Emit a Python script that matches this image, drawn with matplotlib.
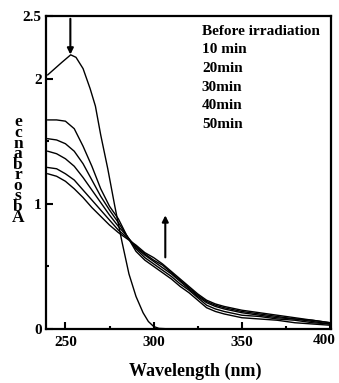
import matplotlib.pyplot as plt
from matplotlib.transforms import ScaledTranslation

plt.rcParams["font.family"] = ["Liberation Serif", "DejaVu Serif"]
plt.rcParams["font.weight"] = "bold"

# before irradiation spectrum
wl_before = [240, 244, 248, 253, 256, 260, 264, 267, 270, 274, 278, 282, 286, 290,
             294, 297, 300, 303, 310, 320, 400]
a_before = [2.03, 2.08, 2.13, 2.19, 2.17, 2.08, 1.92, 1.78, 1.55, 1.28, 0.98, 0.70,
            0.44, 0.26, 0.13, 0.06, 0.02, 0.005, 0.0, 0.0, 0.0]

# irradiated spectra
wl = [240, 245, 250, 255, 260, 265, 270, 275, 280, 285, 290, 295, 300, 305, 310,
      315, 320, 325, 330, 335, 340, 350, 360, 370, 380, 390, 400]
a_10 = [1.67, 1.67, 1.66, 1.60, 1.46, 1.30, 1.12, 0.98, 0.88, 0.74, 0.62, 0.55, 0.50,
        0.45, 0.40, 0.34, 0.29, 0.23, 0.17, 0.14, 0.12, 0.09, 0.08, 0.07, 0.05, 0.04, 0.03]
a_20 = [1.52, 1.51, 1.48, 1.42, 1.32, 1.19, 1.06, 0.95, 0.85, 0.74, 0.64, 0.57, 0.52,
        0.47, 0.42, 0.36, 0.31, 0.25, 0.19, 0.16, 0.14, 0.11, 0.10, 0.08, 0.07, 0.05, 0.04]
a_30 = [1.42, 1.40, 1.36, 1.30, 1.21, 1.11, 1.01, 0.91, 0.82, 0.74, 0.65, 0.59, 0.54,
        0.49, 0.44, 0.38, 0.32, 0.26, 0.21, 0.18, 0.16, 0.13, 0.11, 0.09, 0.08, 0.06, 0.04]
a_40 = [1.29, 1.28, 1.24, 1.19, 1.11, 1.03, 0.95, 0.87, 0.79, 0.73, 0.66, 0.60, 0.55,
        0.51, 0.45, 0.39, 0.33, 0.27, 0.22, 0.19, 0.17, 0.14, 0.12, 0.10, 0.08, 0.07, 0.05]
a_50 = [1.24, 1.22, 1.18, 1.12, 1.05, 0.97, 0.90, 0.83, 0.77, 0.72, 0.67, 0.61, 0.57,
        0.52, 0.46, 0.40, 0.34, 0.28, 0.23, 0.20, 0.18, 0.15, 0.13, 0.11, 0.09, 0.07, 0.05]

labels = ["Before irradiation", "10 min", "20min", "30min", "40min", "50min"]

fig = plt.figure(figsize=(3.39, 3.83), dpi=100)
ax = fig.add_axes([0.1357, 0.141, 0.8407, 0.8172])

ax.plot(wl_before, a_before, color="black", lw=1.0, label=labels[0])
for a, lab in zip([a_10, a_20, a_30, a_40, a_50], labels[1:]):
    ax.plot(wl, a, color="black", lw=1.0, label=lab)

ax.set_xlim(239, 400.5)
ax.set_ylim(0, 2.5)
ax.set_xticks([250, 300, 350, 400])
ax.set_xticks([275, 325, 375], minor=True)
ax.set_yticks([0, 1, 2, 2.5])
ax.set_yticklabels(["0", "1", "2", "2.5"])
ax.set_yticks([0.5, 1.5], minor=True)
ax.tick_params(which="both", direction="in", labelsize=11, width=1.5)
ax.tick_params(which="major", length=5)
ax.tick_params(which="minor", length=2.5)
ax.tick_params(axis="x", pad=5)
ax.tick_params(axis="y", pad=3)
for s in ax.spines.values():
    s.set_linewidth(1.6)

# keep the last x label inside the figure
last = ax.get_xticklabels()[-1]
last.set_transform(last.get_transform() + ScaledTranslation(-0.06, 0.02, fig.dpi_scale_trans))

# arrows
ax.annotate("", xy=(252.8, 2.17), xytext=(252.8, 2.5),
            arrowprops=dict(arrowstyle="-|>", color="black", lw=1.5, mutation_scale=9))
ax.annotate("", xy=(306.6, 0.93), xytext=(306.6, 0.55),
            arrowprops=dict(arrowstyle="-|>", color="black", lw=1.5, mutation_scale=9))

leg = ax.legend(loc="upper left", bbox_to_anchor=(0.547, 0.975), frameon=False,
                handlelength=0, handletextpad=0, borderpad=0, borderaxespad=0,
                labelspacing=0.33, prop={"size": 11, "weight": "bold"})
for h in leg.legend_handles:
    h.set_visible(False)

ax.set_xlabel("Wavelength (nm)", fontsize=13, fontweight="bold", labelpad=10)
ax.xaxis.label.set_x(0.522)

# stacked y label, letters upright, read from bottom to top
ylab = "Absorbance"
fig.text(18 / 339, 1 - 170 / 383, "\n".join(reversed(ylab)), ha="center",
         va="center", ma="center", fontsize=12.5, fontweight="bold",
         linespacing=0.55)

fig.savefig("out.png", dpi=100)
